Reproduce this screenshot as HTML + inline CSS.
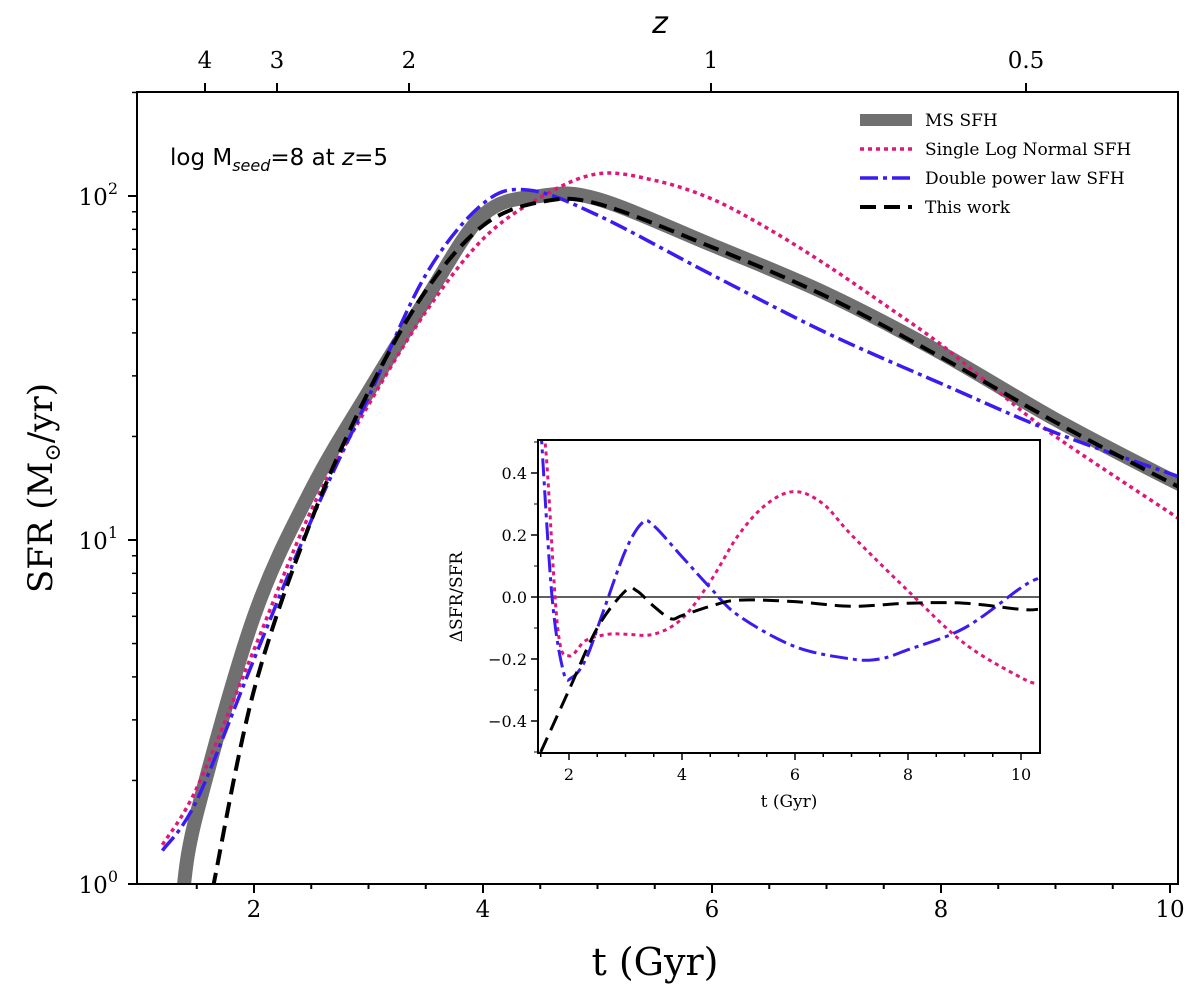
<!DOCTYPE html>
<html><head><meta charset="utf-8"><style>
body{margin:0;background:#fff}
svg text{font-family:"DejaVu Serif","Liberation Serif",serif}
.sans{font-family:"DejaVu Sans","Liberation Sans",sans-serif}
</style></head><body>
<svg id="chart" width="1200" height="994" viewBox="0 0 1200 994" xmlns="http://www.w3.org/2000/svg">
<defs>
<clipPath id="mainClip"><rect x="137" y="92" width="1041" height="792"/></clipPath>
<clipPath id="insetClip"><rect x="538" y="440" width="502" height="313"/></clipPath>
</defs>
<g id="main"></g>
<g id="inset"></g>
</svg>
<script>
// ---- main chart data ----
const msT   = [1.38,1.5,2,2.5,3,3.5,4,4.5,5,6,7,8,9,10,10.1];
const msV   = [0.95,1.6,6,14,27,50,88,100,98,72,52,35,22.4,15,14.6];
const lnT   = [1.2,1.5,2,2.5,3,3.5,4,4.5,5,5.5,6,6.5,7,7.5,8,8.5,9,10,10.1];
const lnV   = [1.3,1.9,4.8,12.2,24.7,46,75,99,116,111,98,80,63,48.5,37,27,20,12,11.4];
const dpT   = [1.2,1.5,2,2.5,3,3.5,4,4.4,5,6,7,8,9,10,10.1];
const dpV   = [1.25,1.75,4.5,11.4,26,59,95,104,88,59,40,28.5,20.5,15.6,15.2];
const twT   = [1.64,2,2.5,3,3.5,4,4.5,5,6,7,8,9,10,10.1];
const twV   = [0.97,3.66,11.4,27,53,82,96,95,71,51,34,22,14.7,14.3];
const xTicks = [2,4,6,8,10];
const yTicks = [1,10,100];
const zLabels = ["4","3","2","1","0.5"];
const zPos = [205,277,409,711,1026];
// ---- inset data ----
const rLnT = [1.45,1.6,1.8,2,2.3,2.7,3,3.5,4,4.5,5,5.5,6,6.5,7,8,9,10,10.3];
const rLnV = [0.7,0.45,-0.1,-0.19,-0.14,-0.12,-0.12,-0.12,-0.07,0.05,0.2,0.3,0.34,0.3,0.2,0.02,-0.15,-0.26,-0.28];
const rDpT = [1.5,1.7,1.9,2.05,2.3,2.6,3,3.3,3.5,4,4.5,5,6,7,7.5,8,9,10,10.3];
const rDpV = [0.55,0.0,-0.24,-0.26,-0.2,-0.05,0.15,0.24,0.23,0.13,0.03,-0.06,-0.16,-0.2,-0.2,-0.17,-0.1,0.03,0.06];
const rTwT = [1.5,2,2.5,3,3.2,3.5,3.8,4,4.5,5,6,7,8,9,10,10.3];
const rTwV = [-0.5,-0.3,-0.1,0.02,0.02,-0.03,-0.07,-0.06,-0.03,-0.01,-0.015,-0.03,-0.02,-0.02,-0.04,-0.04];
const insXTicks = [2,4,6,8,10];
const insYTicks = [-0.4,-0.2,0.0,0.2,0.4];

const NS="http://www.w3.org/2000/svg";
function mk(tag,attrs,parent){const e=document.createElementNS(NS,tag);for(const k in attrs)e.setAttribute(k,attrs[k]);parent.appendChild(e);return e;}
const X=t=>254+(t-2)*114.5;
const Y=v=>884-Math.log10(v)*344;
const iX=t=>569+(t-2)*56.5;
const iY=v=>597-v*310;
function smooth(pts){let d=`M${pts[0][0]},${pts[0][1]}`;for(let i=0;i<pts.length-1;i++){const p0=pts[Math.max(i-1,0)],p1=pts[i],p2=pts[i+1],p3=pts[Math.min(i+2,pts.length-1)];const c1=[p1[0]+(p2[0]-p0[0])/6,p1[1]+(p2[1]-p0[1])/6],c2=[p2[0]-(p3[0]-p1[0])/6,p2[1]-(p3[1]-p1[1])/6];d+=`C${c1[0]},${c1[1]} ${c2[0]},${c2[1]} ${p2[0]},${p2[1]}`;}return d;}
const main=document.getElementById('main'), inset=document.getElementById('inset');

const cg=mk('g',{'clip-path':'url(#mainClip)'},main);
const series=[
 [msT,msV,{stroke:'#707070','stroke-width':14},'ms-sfh-line'],
 [lnT,lnV,{stroke:'#e0177a','stroke-width':3.5,'stroke-dasharray':'4 4'},'lognormal-sfh-line'],
 [dpT,dpV,{stroke:'#3a1cf0','stroke-width':3.5,'stroke-dasharray':'18 5 4 5'},'double-power-law-line'],
 [twT,twV,{stroke:'#000','stroke-width':4,'stroke-dasharray':'16 8'},'this-work-line']];
series.forEach(s=>{const p=mk('path',Object.assign({d:smooth(s[0].map((t,i)=>[X(t),Y(s[1][i])])),fill:'none'},s[2]),cg);

});

const fr=mk('rect',{x:137,y:92,width:1041,height:792,fill:'none',stroke:'#000','stroke-width':2},main);


for(let t=1.5;t<=10.01;t+=0.5){const maj=xTicks.includes(t);mk('line',{x1:X(t),x2:X(t),y1:884,y2:maj?893:889,stroke:'#000','stroke-width':2},main);}
xTicks.forEach(t=>{const e=mk('text',{x:X(t),y:917,'text-anchor':'middle','font-size':23},main);e.textContent=t;

});
yTicks.forEach(v=>{mk('line',{x1:128,x2:137,y1:Y(v),y2:Y(v),stroke:'#000','stroke-width':2},main);
const e=mk('text',{x:118,y:Y(v)+9,'text-anchor':'end','font-size':23},main);e.textContent='10';
const s=mk('tspan',{dy:-11,'font-size':16},e);s.textContent=Math.round(Math.log10(v));

});
for(let d=0;d<3;d++)for(let m=2;m<=9;m++){const v=m*Math.pow(10,d);if(Y(v)<92)break;mk('line',{x1:132,x2:137,y1:Y(v),y2:Y(v),stroke:'#000','stroke-width':1.5},main);}
zPos.forEach((x,i)=>{mk('line',{x1:x,x2:x,y1:83,y2:92,stroke:'#000','stroke-width':2},main);
const e=mk('text',{x:x,y:68,'text-anchor':'middle','font-size':23},main);e.textContent=zLabels[i];

});
const xt=mk('text',{x:655,y:975,'text-anchor':'middle','font-size':38},main);xt.textContent='t (Gyr)';


const zt=mk('text',{x:660,y:33,'text-anchor':'middle','font-size':30,'font-style':'italic',class:'sans'},main);zt.textContent='z';


const yl=mk('text',{x:0,y:0,'text-anchor':'middle','font-size':34,transform:'translate(52,488) rotate(-90)'},main);
yl.innerHTML='SFR (M<tspan font-size="22" dy="8">⊙</tspan><tspan dy="-8">/yr)</tspan>';


const an=mk('text',{x:170,y:165,'font-size':23,class:'sans'},main);
an.innerHTML='log M<tspan font-size="16" font-style="italic" dy="6">seed</tspan><tspan dy="-6">=8 at </tspan><tspan font-style="italic">z</tspan>=5';



const leg=[['MS SFH',{stroke:'#707070','stroke-width':12}],['Single Log Normal SFH',{stroke:'#e0177a','stroke-width':3.5,'stroke-dasharray':'4 4'}],['Double power law SFH',{stroke:'#3a1cf0','stroke-width':3.5,'stroke-dasharray':'18 5 4 5'}],['This work',{stroke:'#000','stroke-width':4,'stroke-dasharray':'16 8'}]];
leg.forEach((l,i)=>{const y=120+i*29;const g=mk('g',{},main);


mk('line',Object.assign({x1:860,x2:912,y1:y,y2:y},l[1]),g);
const t=mk('text',{x:925,y:y+6,'font-size':17},g);t.textContent=l[0];});

mk('rect',{x:538,y:440,width:502,height:313,fill:'#fff'},inset);
const ig=mk('g',{'clip-path':'url(#insetClip)'},inset);
mk('line',{x1:538,x2:1040,y1:iY(0),y2:iY(0),stroke:'#000','stroke-width':1.2},ig);
[[rLnT,rLnV,series[1][2],'inset-lognormal-line'],[rDpT,rDpV,series[2][2],'inset-double-power-line'],[rTwT,rTwV,series[3][2],'inset-this-work-line']].forEach(s=>{
const p=mk('path',Object.assign({d:smooth(s[0].map((t,i)=>[iX(t),iY(s[1][i])])),fill:'none'},s[2]),ig);
p.setAttribute('stroke-width',3);

});
const ifr=mk('rect',{x:538,y:440,width:502,height:313,fill:'none',stroke:'#000','stroke-width':2},inset);


for(let t=1.5;t<=10.01;t+=0.5){const maj=insXTicks.includes(t);mk('line',{x1:iX(t),x2:iX(t),y1:753,y2:maj?760:757,stroke:'#000','stroke-width':1.5},inset);}
insXTicks.forEach(t=>{const e=mk('text',{x:iX(t),y:780,'text-anchor':'middle','font-size':16},inset);e.textContent=t;

});
insYTicks.forEach(v=>{mk('line',{x1:531,x2:538,y1:iY(v),y2:iY(v),stroke:'#000','stroke-width':1.5},inset);
const e=mk('text',{x:527,y:iY(v)+6,'text-anchor':'end','font-size':16},inset);e.textContent=(v<0?'−':'')+Math.abs(v).toFixed(1);

});
for(let v=-0.5;v<=0.51;v+=0.1){mk('line',{x1:534,x2:538,y1:iY(v),y2:iY(v),stroke:'#000','stroke-width':1},inset);}
const ixl=mk('text',{x:789,y:807,'text-anchor':'middle','font-size':17},inset);ixl.textContent='t (Gyr)';


const iyl=mk('text',{x:0,y:0,'text-anchor':'middle','font-size':17,transform:'translate(462,597) rotate(-90)'},inset);iyl.textContent='ΔSFR/SFR';


</script>
</body></html>
